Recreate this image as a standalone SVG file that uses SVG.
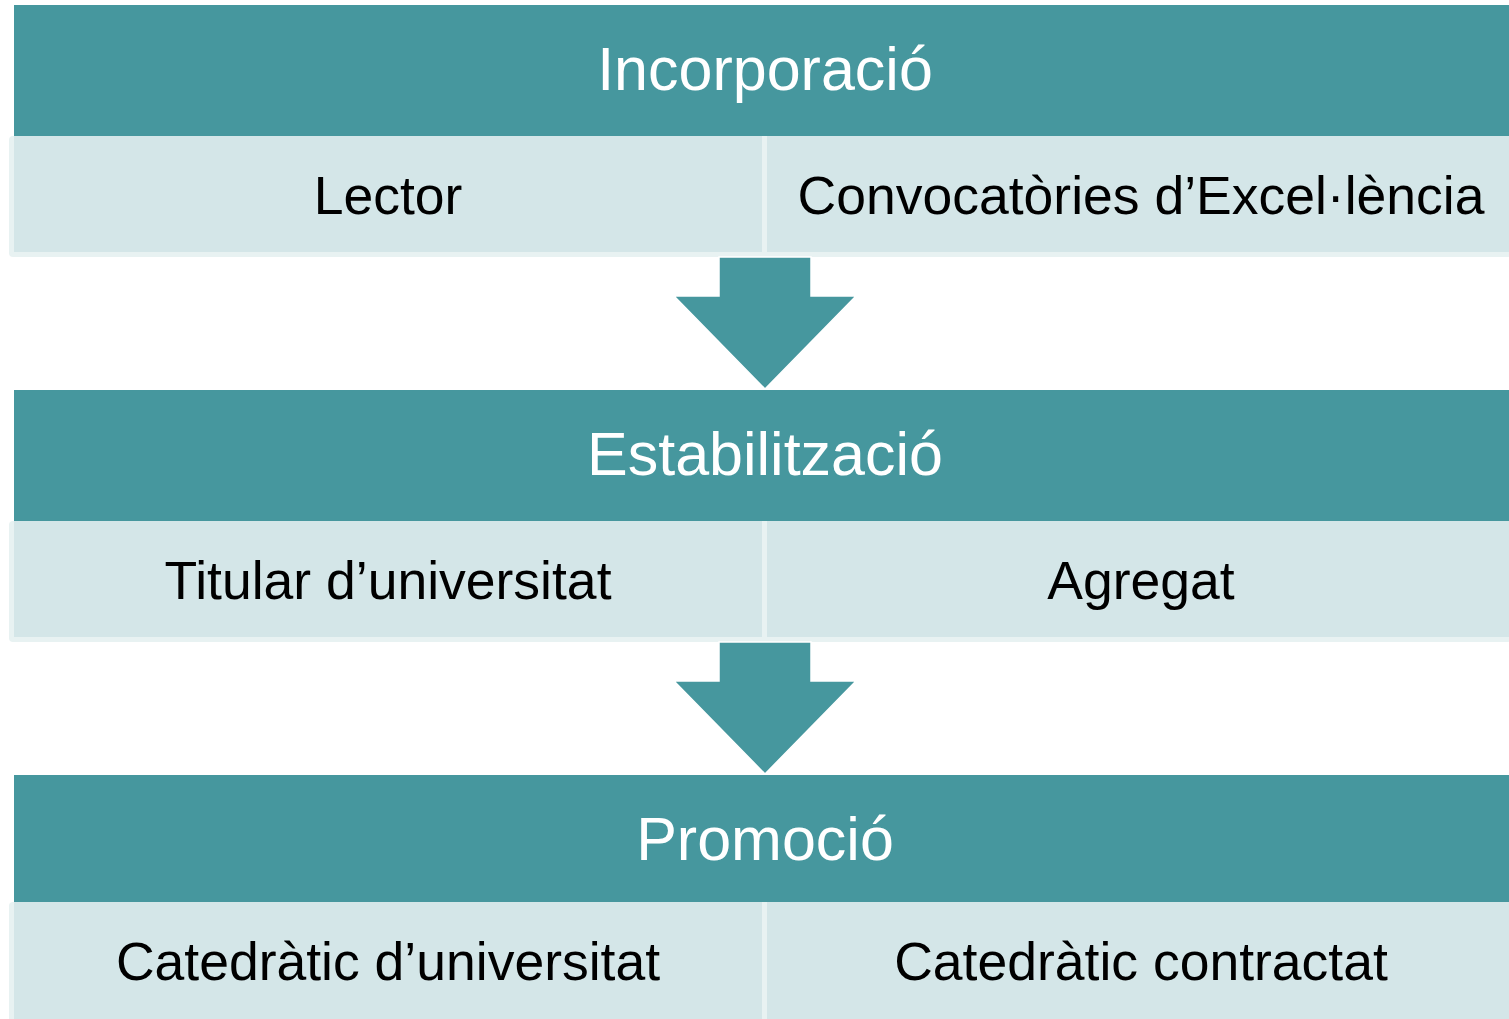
<svg xmlns="http://www.w3.org/2000/svg" width="1509" height="1019" viewBox="0 0 1509 1019">
<style>
.hdr{fill:#46979E}
.band{fill:#E8F2F2}
.cell{fill:#D4E6E8}
.arrow{fill:#46979E;stroke:#FFFFFF;stroke-width:1.5;stroke-linejoin:miter}
.ht{font-family:"Liberation Sans",Arial,sans-serif;font-size:61px;fill:#FFFFFF;text-anchor:middle}
.ct{font-family:"Liberation Sans",Arial,sans-serif;font-size:53.5px;fill:#000000;text-anchor:middle}
</style>
<rect x="0" y="0" width="1509" height="1019" fill="#FFFFFF"/>
<g id="row1">
<rect class="band" x="9" y="136" width="1502" height="121" rx="4"/>
<rect class="cell" x="14" y="136" width="748" height="116"/>
<rect class="cell" x="767" y="136" width="744" height="116"/>
<text class="ct" x="388" y="214">Lector</text>
<text class="ct" x="1141" y="214">Convocatòries d’Excel·lència</text>
</g>
<g id="row2">
<rect class="band" x="9" y="521" width="1502" height="121" rx="4"/>
<rect class="cell" x="14" y="521" width="748" height="116"/>
<rect class="cell" x="767" y="521" width="744" height="116"/>
<text class="ct" x="388" y="599">Titular d’universitat</text>
<text class="ct" x="1141" y="599">Agregat</text>
</g>
<g id="row3">
<rect class="band" x="9" y="902" width="1502" height="125" rx="4"/>
<rect class="cell" x="14" y="902" width="748" height="125"/>
<rect class="cell" x="767" y="902" width="744" height="125"/>
<text class="ct" x="388" y="980">Catedràtic d’universitat</text>
<text class="ct" x="1141" y="980">Catedràtic contractat</text>
</g>
<g id="connectors">
<polygon class="arrow" points="719,257 811,257 811,296 856,296 765,389 674,296 719,296"/>
<polygon class="arrow" points="719,642 811,642 811,681 856,681 765,774 674,681 719,681"/>
</g>
<g id="incorporacio">
<rect class="hdr" x="14" y="5" width="1497" height="131"/>
<text class="ht" x="765" y="90">Incorporació</text>
</g>
<g id="estabilitzacio">
<rect class="hdr" x="14" y="390" width="1497" height="131"/>
<text class="ht" x="765" y="475">Estabilització</text>
</g>
<g id="promocio">
<rect class="hdr" x="14" y="775" width="1497" height="127"/>
<text class="ht" x="765" y="860">Promoció</text>
</g>
</svg>
